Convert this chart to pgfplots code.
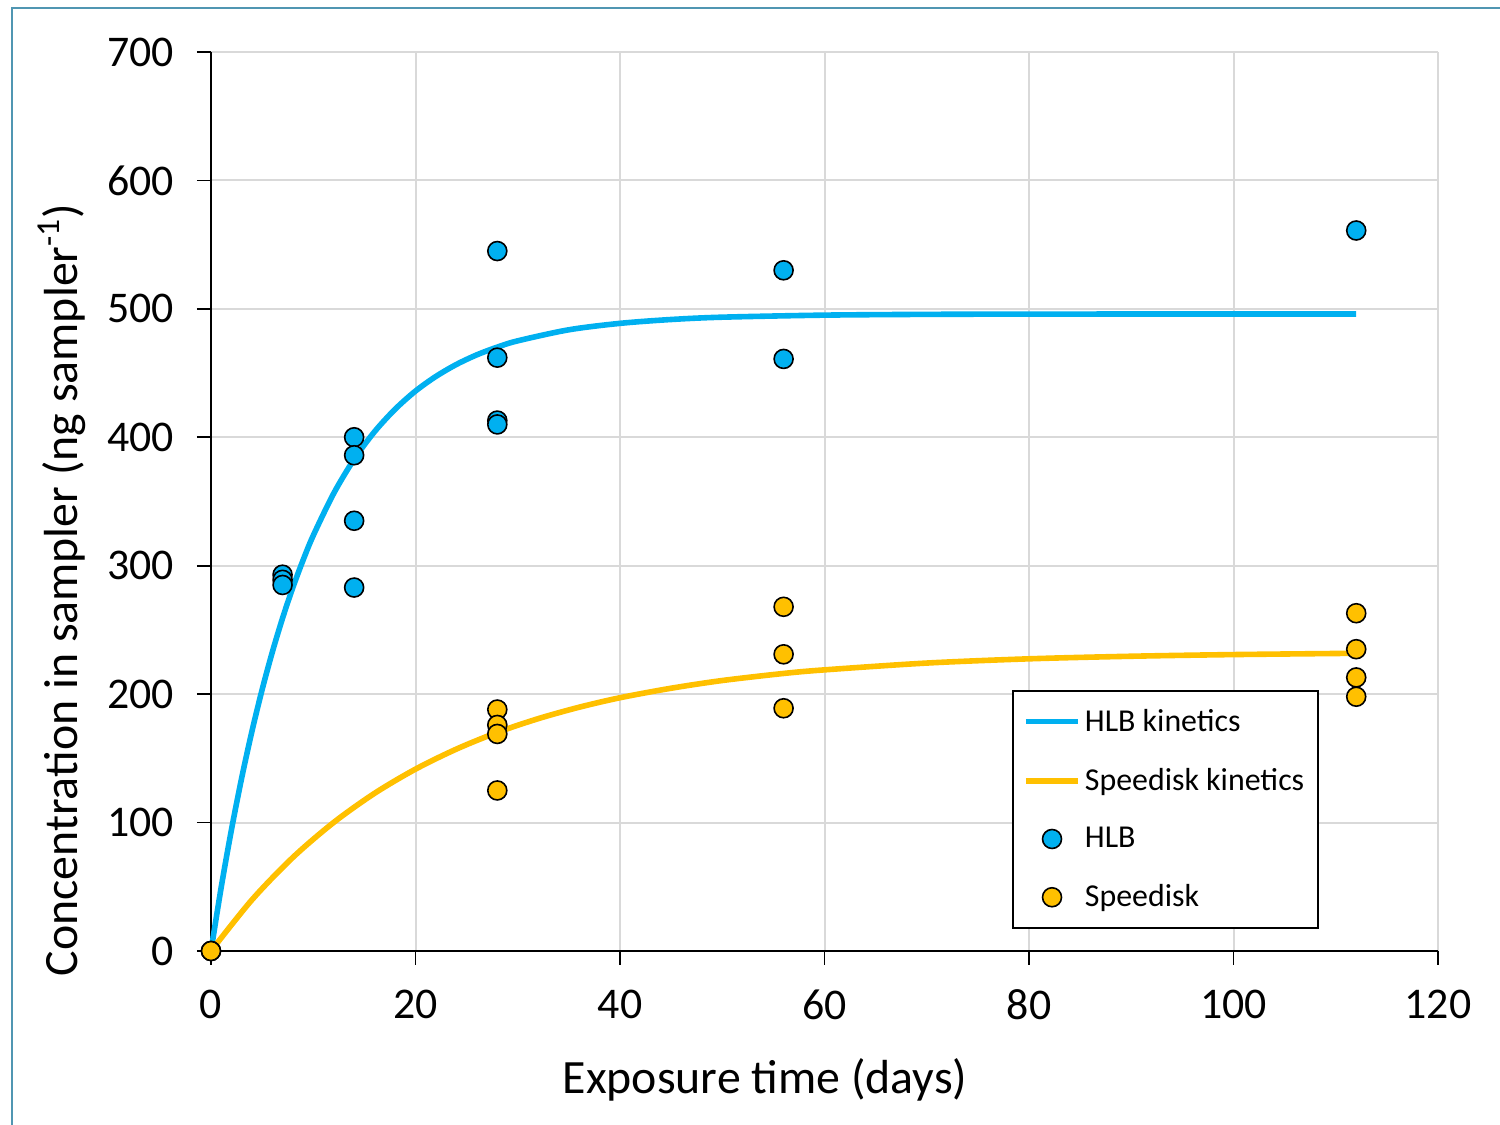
\documentclass[border=0pt]{standalone}
\usepackage{fontspec}
\setmainfont{Carlito}
\usepackage{pgfplots}
\pgfplotsset{compat=1.18}
\definecolor{hlb}{RGB}{0,176,240}
\definecolor{spd}{RGB}{255,192,0}
\definecolor{gridc}{RGB}{217,217,217}
\definecolor{frame}{RGB}{80,150,178}
\begin{document}
\begin{tikzpicture}[x=1bp,y=1bp]
\useasboundingbox (-105.5,-87) rectangle (644.5,475.5);
\draw[frame, line width=1.2bp] (-99.5,-120) -- (-99.5,471.5) -- (700,471.5);
\begin{axis}[
  at={(0,0)}, anchor=south west,
  scale only axis, width=613.5bp, height=449.5bp,
  xmin=0, xmax=120, ymin=0, ymax=700,
  xtick={0,20,...,120}, ytick={0,100,...,700},
  axis x line*=bottom, axis y line*=left,
  axis line style={black, line width=0.9bp},
  tick align=outside, major tick length=7bp,
  tick style={black, line width=0.9bp},
  grid=major, major grid style={gridc, line width=1bp},
  /pgf/number format/assume math mode=true,
  tick label style={font=\fontsize{22}{26}\selectfont},
  xticklabel style={yshift=-9bp},
  yticklabel style={xshift=-8bp},
  label style={font=\fontsize{24}{29}\selectfont},
  xlabel={Exposure time (days)},
  ylabel={Concentration in sampler (ng sampler\textsuperscript{-1})},
  xlabel style={at={(axis description cs:0.4515,-0.1435)}, anchor=center},
  ylabel style={at={(axis description cs:-0.1214,0.4016)}, anchor=center},
  clip=false,
  legend style={at={(rel axis cs:0.903,0.290)}, anchor=north east,
    draw=black, line width=0.8bp, fill=white,
    font=\fontsize{16}{19}\selectfont,
    row sep=13bp, inner xsep=5bp, inner ysep=7bp},
  legend cell align=left,
  legend image code/.code={\draw[mark repeat=2,mark phase=2,#1] plot coordinates {(0cm,0cm) (0.46cm,0cm) (0.92cm,0cm)};},
]
\addplot[hlb, line width=2.8bp, no marks, smooth] coordinates {
(0,0) (1,49.7) (2,94.4) (3,134.7) (4,170.9) (5,203.5) (6,232.8) (7,259.2) (8,282.9)
(9,304.2) (10,323.5) (12,356.3) (14,382.9)
(16,404.4) (18,421.8) (20,436.0) (22,447.4) (24,456.7) (26,464.2) (28,470.2)
(30,475.1) (35,483.7) (40,488.7) (45,491.7) (50,493.5) (60,495.1) (70,495.7)
(80,495.9) (100,496) (112,496)};
\addlegendentry{HLB kinetics}
\addplot[spd, line width=2.8bp, no marks, smooth] coordinates {
(0,0) (4,39.8) (8,72.8) (12,100.1) (16,122.8) (20,141.6) (24,157.2) (28,170.2)
(32,180.9) (36,189.8) (40,197.2) (45,204.6) (50,210.6) (56,216.1) (60,218.9)
(70,224.2) (80,227.5) (90,229.5) (100,230.8) (112,231.8)};
\addlegendentry{Speedisk kinetics}
\addplot[only marks, mark=*, mark size=4.75bp, mark options={fill=hlb, draw=black, line width=0.8bp}] coordinates {
(0,0) (7,293) (7,289) (7,285) (14,400) (14,386) (14,335) (14,283)
(28,545) (28,462) (28,413) (28,410) (56,530) (56,461) (112,561)};
\addlegendentry{HLB}
\addplot[only marks, mark=*, mark size=4.75bp, mark options={fill=spd, draw=black, line width=0.8bp}] coordinates {
(0,0) (28,188) (28,176) (28,169) (28,125) (56,268) (56,231) (56,189)
(112,263) (112,235) (112,213) (112,198)};
\addlegendentry{Speedisk}
\end{axis}
\end{tikzpicture}
\end{document}
